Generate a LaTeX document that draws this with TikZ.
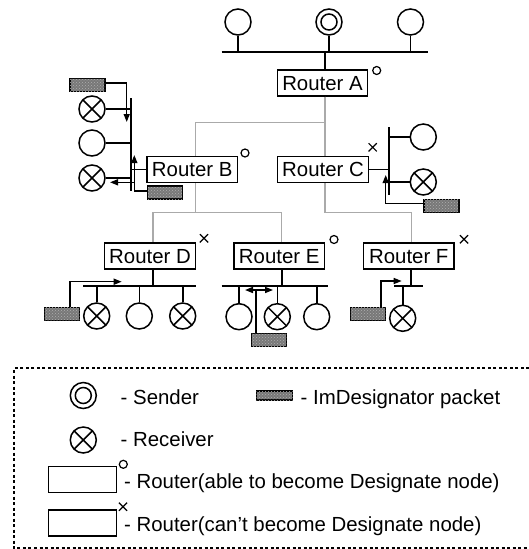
\documentclass[tikz,border=0pt]{standalone}
\usepackage{fontspec}
\setmainfont{Liberation Sans}
\usetikzlibrary{arrows.meta,shapes.misc,patterns}
\definecolor{pktgray}{RGB}{120,120,120}
\definecolor{pktdot}{RGB}{175,175,175}
\definecolor{linkgray}{RGB}{170,170,170}
\begin{document}
\begin{tikzpicture}[x=1pt,y=-1pt,
  every node/.style={font=\fontsize{20.4}{24}\selectfont},
  lan/.style={line width=1.6pt},
  link/.style={line width=1.4pt, draw=linkgray},
  router/.style={draw, line width=1.4pt, minimum width=90.5pt, minimum height=26pt,
    inner sep=0pt, text height=14.6pt, text depth=0pt},
  host/.style={draw, circle, line width=1.5pt, minimum size=26pt, inner sep=0pt},
  recv/.style={host, path picture={\draw[line width=1.5pt]
    (path picture bounding box.north west) -- (path picture bounding box.south east)
    (path picture bounding box.north east) -- (path picture bounding box.south west);}},
  sender/.style={host, path picture={\draw[line width=1.5pt]
    (path picture bounding box.center) circle[radius=8pt];}},
  packet/.style={draw, line width=1.4pt, fill=pktgray,
    postaction={pattern=crosshatch dots, pattern color=pktdot},
    minimum width=35pt, minimum height=13pt, inner sep=0pt},
  flow/.style={line width=1.5pt, -{Triangle[length=8pt,width=6pt]}},
  flow2/.style={line width=1.5pt, {Triangle[length=8pt,width=6pt]}-{Triangle[length=8pt,width=6pt]}},
  okmark/.style={draw, circle, line width=1.2pt, minimum size=8pt, inner sep=0pt},
  nomark/.style={draw, cross out, line width=1.2pt, minimum size=7pt, inner sep=0pt},
  label/.style={anchor=west, inner sep=0pt, text height=14.6pt, text depth=0pt},
  frame/.style={line width=1.2pt, dash pattern=on 3pt off 2.5pt}
]
\useasboundingbox (0,0) rectangle (528,549);

% ---------- routers ----------
\node[router] (rA) at (322.5,83) {Router A};
\node[router] (rB) at (192.2,169.5) {Router B};
\node[router] (rC) at (323,169.5) {Router C};
\node[router] (rD) at (150,256) {Router D};
\node[router] (rE) at (279.2,256) {Router E};
\node[router] (rF) at (408.8,256) {Router F};

\node[okmark] (mA) at (376.7,70.5) {};
\node[okmark] (mB) at (245,153) {};
\node[nomark] (mC) at (372.7,147.3) {};
\node[nomark] (mD) at (204,238.3) {};
\node[okmark] (mE) at (334,239.5) {};
\node[nomark] (mF) at (464,239.3) {};

% ---------- router tree ----------
\draw[link] ([xshift=2.5pt]rA.south) -- ([xshift=2pt]rC.north);
\draw[link] ([xshift=2.5pt]rA.south) -- ++(0,26) -| ([xshift=3.5pt]rB.north);
\draw[link] ([xshift=3.5pt]rB.south) -- ++(0,29.5) -| ([xshift=3pt]rD.north);
\draw[link] ([xshift=3.5pt]rB.south) -- ++(0,29.5) -| ([xshift=2.5pt]rE.north);
\draw[link] ([xshift=2pt]rC.south) -- ++(0,29.5) -| ([xshift=2.9pt]rF.north);

% ---------- top LAN (sender side) ----------
\node[host] (h1) at (238,22) {};
\node[sender] (src) at (329,22) {};
\node[host] (h3) at (410.5,22) {};
\coordinate (busAl) at (221.7,52);
\coordinate (busAr) at (428,52);
\draw[lan] (busAl) -- (busAr);
\draw[lan] (h1.south) -- (h1.south |- busAl);
\draw[lan] (src.south) -- (src.south |- busAl);
\draw[lan] (h3.south) -- (h3.south |- busAl);
\draw[lan] ([xshift=2.5pt]rA.north) -- ([xshift=2.5pt]rA.north |- busAl);

% ---------- LAN of Router B ----------
\coordinate (busBt) at (131,98);
\coordinate (busBb) at (131,191);
\draw[lan] (busBt) -- (busBb);
\node[recv] (b1) at (92,109) {};
\node[host] (b2) at (92,143) {};
\node[recv] (b3) at (92,178) {};
\draw[lan] (b1.east) -- (b1.east -| busBt);
\draw[lan] (b2.east) -- (b2.east -| busBt);
\draw[lan] (b3.east) -- (b3.east -| busBt);
\draw[lan] (rB.west) -- (rB.west -| busBt);
\node[packet] (pB1) at (87.5,85) {};
\coordinate (aB1) at (126.7,122);
\draw[flow] ([yshift=2pt]pB1.east) -| (aB1);
\node[packet] (pB2) at (165.2,192.5) {};
\coordinate (aB2) at (134.3,155);
\draw[flow] ([yshift=1.5pt]pB2.west) -| (aB2);
\coordinate (jB) at (134.3,182.3);
\coordinate (aB3) at (110,182.3);
\draw[flow] (jB) -- (aB3);

% ---------- LAN of Router C ----------
\coordinate (busCt) at (389,127);
\coordinate (busCb) at (389,195);
\draw[lan] (busCt) -- (busCb);
\node[host] (c1) at (423.3,137) {};
\node[recv] (c2) at (423.3,182) {};
\draw[lan] (c1.west) -- (c1.west -| busCt);
\draw[lan] (c2.west) -- (c2.west -| busCt);
\draw[lan] (rC.east) -- (rC.east -| busCt);
\node[packet] (pC) at (441.5,206) {};
\coordinate (aC) at (385.7,175);
\draw[flow] ([yshift=2.7pt]pC.west) -| (aC);

% ---------- LAN of Router D ----------
\coordinate (busDl) at (83.3,285.7);
\coordinate (busDr) at (195.7,285.7);
\draw[lan] (busDl) -- (busDr);
\draw[lan] ([xshift=3pt]rD.south) -- ([xshift=3pt]rD.south |- busDl);
\node[recv] (d1) at (96.7,316) {};
\node[host] (d2) at (139.3,316) {};
\node[recv] (d3) at (182.7,316) {};
\draw[lan] (d1.north) -- (d1.north |- busDl);
\draw[lan] (d2.north) -- (d2.north |- busDl);
\draw[lan] (d3.north) -- (d3.north |- busDl);
\node[packet] (pD) at (61.8,314) {};
\coordinate (aD) at (121.7,281.7);
\draw[flow] ([xshift=8.2pt]pD.north) |- (aD);

% ---------- LAN of Router E ----------
\coordinate (busEl) at (221.7,285.7);
\coordinate (busEr) at (328.3,285.7);
\draw[lan] (busEl) -- (busEr);
\draw[lan] ([xshift=2.5pt]rE.south) -- ([xshift=2.5pt]rE.south |- busEl);
\node[host] (e1) at (239,316.7) {};
\node[recv] (e2) at (277.3,316.7) {};
\node[host] (e3) at (316.7,316.7) {};
\draw[lan] (e1.north) -- (e1.north |- busEl);
\draw[lan] (e2.north) -- (e2.north |- busEl);
\draw[lan] (e3.north) -- (e3.north |- busEl);
\node[packet] (pE) at (268.8,339.7) {};
\coordinate (jE) at (255.7,290);
\coordinate (aE1) at (245,290);
\coordinate (aE2) at (273,290);
\draw[lan] ([xshift=-13.1pt]pE.north) -- (jE);
\draw[flow2] (aE1) -- (aE2);

% ---------- LAN of Router F ----------
\coordinate (busFl) at (394,285.7);
\coordinate (busFr) at (423.3,285.7);
\draw[lan] (busFl) -- (busFr);
\draw[lan] ([xshift=1.9pt]rF.south) -- ([xshift=1.9pt]rF.south |- busFl);
\node[recv] (f1) at (402.7,318.3) {};
\draw[lan] (f1.north) -- (f1.north |- busFl);
\node[packet] (pF) at (367.8,313.7) {};
\coordinate (aF) at (401.7,281);
\draw[flow] ([xshift=13pt]pF.north) |- (aF);

% ---------- legend ----------
\draw[frame] (540,368) -- (14,368) -- (14,548) -- (540,548);
\node[sender] (lS) at (83.3,395.5) {};
\node[label] (tS) at (120.5,397.5) {- Sender};
\node[packet, minimum width=36pt, minimum height=9pt] (lP) at (274.7,395.5) {};
\node[label] (tP) at (300.5,397.5) {- ImDesignator packet};
\node[recv] (lR) at (83.3,440) {};
\node[label] (tR) at (120.5,439.5) {- Receiver};
\node[router, minimum width=68.4pt] (lA) at (82.5,479.7) {};
\node[okmark] (lmA) at (123.3,464.3) {};
\node[label] (tA) at (124,480.8) {- Router(able to become Designate node)};
\node[router, minimum width=68.4pt] (lN) at (82.5,523) {};
\node[nomark] (lmN) at (123,506.7) {};
\node[label] (tN) at (124,524) {- Router(can’t become Designate node)};
\end{tikzpicture}
\end{document}
